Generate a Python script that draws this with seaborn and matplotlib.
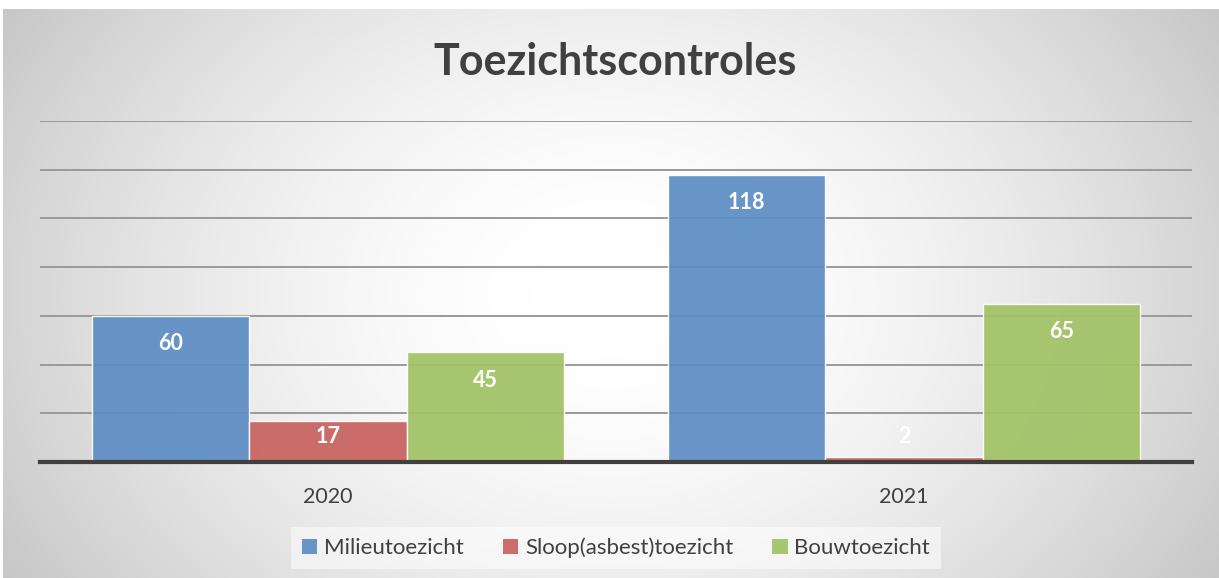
import numpy as np
import pandas as pd
import matplotlib
matplotlib.use("Agg")
import matplotlib.pyplot as plt
import seaborn as sns
from matplotlib.patches import Patch

years = ["2020", "2021"]
series = ["Milieutoezicht", "Sloop(asbest)toezicht", "Bouwtoezicht"]
milieu = [60, 118]
sloop = [17, 2]
bouw = [45, 65]
colors = ["#5D8DC4", "#C86260", "#A2C266"]

df = pd.DataFrame({
    "jaar": years * 3,
    "reeks": [series[0]] * 2 + [series[1]] * 2 + [series[2]] * 2,
    "waarde": milieu + sloop + bouw,
})

sns.set_theme(style="white")
plt.rcParams["font.family"] = ["Lato", "DejaVu Sans"]

W, H = 1219, 578
fig = plt.figure(figsize=(W / 100, H / 100), dpi=100)
fig.patch.set_facecolor("white")

# radial gradient background
bg = fig.add_axes([3 / W, 0, (W - 3) / W, (H - 9) / H], zorder=0)
yy, xx = np.mgrid[0:300, 0:600]
cx, cy = 300, 150
r = np.sqrt(((xx - cx) / 330.0) ** 2 + ((yy - cy) / 270.0) ** 2)
val = np.clip(1.0 - 0.24 * np.clip(r - 0.12, 0, 1.3) ** 1.5, 0.76, 1.0)
img = np.dstack([val, val, val])
bg.imshow(img, aspect="auto", extent=[0, 1, 0, 1], interpolation="bilinear")
bg.set_axis_off()

ax = fig.add_axes([40 / W, (H - 462) / H, (1192 - 40) / W, (462 - 121) / H], zorder=1)
ax.patch.set_alpha(0)
sns.barplot(data=df, x="jaar", y="waarde", hue="reeks", hue_order=series,
            palette=colors, width=0.82, ax=ax, alpha=0.93, saturation=1,
            edgecolor="white", linewidth=1, legend=False, zorder=3)

ax.set_ylim(0, 140)
ax.set_yticks(np.arange(20, 141, 20))
ax.yaxis.grid(True, color="#9a9a9a", linewidth=1.4, zorder=1)
ax.set_axisbelow(True)
ax.tick_params(axis="y", left=False, labelleft=False)
ax.tick_params(axis="x", bottom=False, labelsize=15.5, colors="#404040", pad=12)
ax.set_xlabel("")
ax.set_ylabel("")
for s in ["top", "right", "left"]:
    ax.spines[s].set_visible(False)
ax.spines["bottom"].set_color("#404040")
ax.spines["bottom"].set_linewidth(3)
ax.spines["bottom"].set_zorder(5)

for cont in ax.containers:
    for bar in cont:
        v = bar.get_height()
        y = max(v - 11.5, 10.3)
        ax.text(bar.get_x() + bar.get_width() / 2, y, f"{int(round(v))}",
                ha="center", va="center", color="white", fontsize=15.5,
                fontweight="bold", zorder=6)

fig.text(615 / W, 1 - 62 / H, "Toezichtscontroles", ha="center", va="center",
         fontsize=31, fontweight="bold", color="#404040")

handles = [Patch(facecolor=c, alpha=0.93, edgecolor="none") for c in colors]
leg = fig.legend(handles, series, loc="center", bbox_to_anchor=(616 / W, 1 - 548 / H),
                 ncol=3, frameon=True, fontsize=16, handlelength=0.7, handleheight=0.7,
                 handletextpad=0.3, columnspacing=1.75, labelcolor="#404040",
                 borderpad=0.5, borderaxespad=0, fancybox=False)
leg.get_frame().set_facecolor("white")
leg.get_frame().set_alpha(0.5)
leg.get_frame().set_edgecolor("none")

fig.savefig("out.png", dpi=100, facecolor=fig.get_facecolor())
